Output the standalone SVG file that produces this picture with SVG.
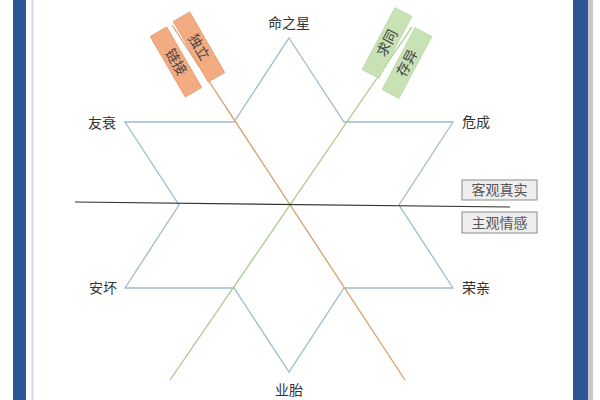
<svg xmlns="http://www.w3.org/2000/svg" width="600" height="400" viewBox="0 0 600 400">
<style>
.lbl{font-family:"Noto Sans CJK SC","Noto Sans CJK JP",sans-serif;font-size:14px;fill:#333}
.tag{font-family:"Noto Sans CJK SC","Noto Sans CJK JP",sans-serif;font-size:14px;fill:#444}
.box{fill:#eeeeee;stroke:#8a8a8a;stroke-width:1}
.boxt{font-family:"Noto Sans CJK SC","Noto Sans CJK JP",sans-serif;font-size:14px;fill:#555}
.or{fill:#f3ab82;stroke:#e39a70;stroke-width:0.8}
.gr{fill:#c8e2b5;stroke:#b7d6a2;stroke-width:0.8}
</style>
<rect width="600" height="400" fill="#ffffff"/>
<g id="frame">
<rect x="13" y="0" width="13" height="400" fill="#2b5597"/>
<rect x="31.5" y="0" width="2" height="400" fill="#d9d4ea"/>
<rect x="573" y="0" width="15" height="400" fill="#2b5597"/>
<rect x="588" y="0" width="5" height="400" fill="#c9c4cc"/>
</g>
<g id="connectors" fill="none">
<polygon points="289,38 344,122 453,122 399,205 453,288 344,288 289,372 234,288 125,288 179,205 125,122 234,122" stroke="#9fbccb" stroke-width="1.3"/>
<line x1="172" y1="25" x2="405" y2="380" stroke="#d4a06c" stroke-width="1.3"/>
<line x1="412" y1="27" x2="170" y2="380" stroke="#a9c98e" stroke-width="1.3"/>
<line x1="75" y1="202" x2="510" y2="207" stroke="#333333" stroke-width="1.2"/>
</g>
<g id="n-top"><text class="lbl" x="289" y="28" text-anchor="middle">命之星</text></g>
<g id="n-ul"><text class="lbl" x="116" y="128" text-anchor="end">友衰</text></g>
<g id="n-ur"><text class="lbl" x="462" y="127">危成</text></g>
<g id="n-ll"><text class="lbl" x="117" y="293" text-anchor="end">安坏</text></g>
<g id="n-lr"><text class="lbl" x="462" y="293">荣亲</text></g>
<g id="n-bot"><text class="lbl" x="289" y="395" text-anchor="middle">业胎</text></g>
<g id="tag-duli" transform="translate(199,47) rotate(60)">
<rect class="or" x="-35" y="-9.5" width="70" height="19"/>
<text class="tag" x="0" y="5" text-anchor="middle">独立</text>
</g>
<g id="tag-lianjie" transform="translate(176,62) rotate(60)">
<rect class="or" x="-35" y="-9.5" width="70" height="19"/>
<text class="tag" x="0" y="5" text-anchor="middle">链接</text>
</g>
<g id="tag-qiutong" transform="translate(387,43) rotate(-62)">
<rect class="gr" x="-35" y="-9.5" width="70" height="19"/>
<text class="tag" x="0" y="5" text-anchor="middle">求同</text>
</g>
<g id="tag-cunyi" transform="translate(407,63) rotate(-62)">
<rect class="gr" x="-35" y="-9.5" width="70" height="19"/>
<text class="tag" x="0" y="5" text-anchor="middle">存异</text>
</g>
<g id="box-objective">
<rect class="box" x="462" y="180" width="75" height="20"/>
<text class="boxt" x="499.5" y="195" text-anchor="middle">客观真实</text>
</g>
<g id="box-subjective">
<rect class="box" x="462" y="212" width="75" height="21"/>
<text class="boxt" x="499.5" y="227.5" text-anchor="middle">主观情感</text>
</g>
</svg>
